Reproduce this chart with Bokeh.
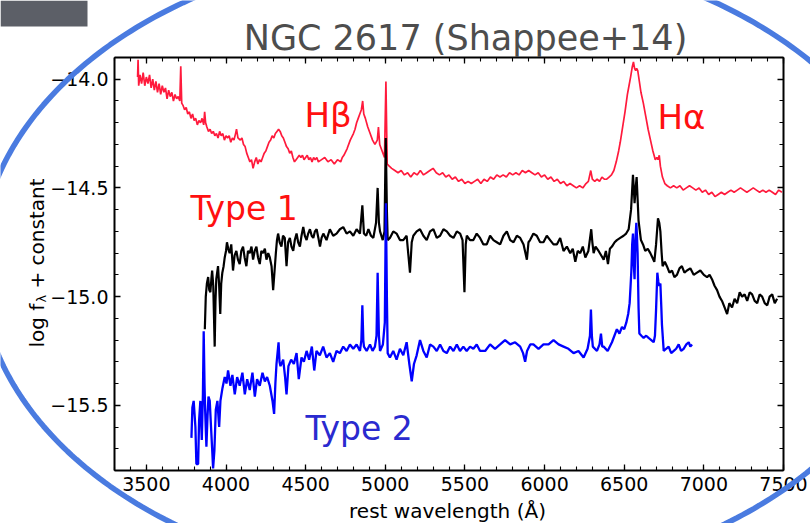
import numpy as np
from bokeh.plotting import figure
from bokeh.models import (Range1d, LinearAxis, SingleIntervalTicker, BasicTickFormatter,
                          CustomJSTickFormatter, Label, PolyAnnotation, BoxAnnotation)
from bokeh.embed import file_html
from bokeh.resources import INLINE

# ---------------- data ----------------
type1_wl = [
    3445, 3448, 3452, 3460, 3470, 3480, 3490, 3500, 3510, 3520,
    3530, 3540, 3550, 3560, 3570, 3580, 3590, 3600, 3610, 3620,
    3630, 3640, 3650, 3660, 3670, 3680, 3690, 3700, 3710, 3716,
    3722, 3730, 3740, 3750, 3760, 3770, 3780, 3790, 3800, 3810,
    3820, 3830, 3840, 3850, 3860, 3866, 3872, 3880, 3890, 3900,
    3910, 3920, 3930, 3940, 3950, 3960, 3970, 3980, 3990, 4000,
    4010, 4020, 4030, 4040, 4050, 4060, 4066, 4075, 4090, 4100,
    4110, 4120, 4130, 4140, 4150, 4160, 4170, 4180, 4190, 4200,
    4210, 4220, 4230, 4240, 4250, 4260, 4270, 4280, 4290, 4300,
    4310, 4320, 4330, 4340, 4350, 4360, 4370, 4380, 4390, 4400,
    4410, 4420, 4430, 4440, 4450, 4460, 4470, 4480, 4490, 4500,
    4510, 4520, 4530, 4540, 4550, 4560, 4570, 4580, 4600, 4620,
    4640, 4660, 4680, 4700, 4720, 4730, 4740, 4760, 4780, 4800,
    4810, 4820, 4830, 4840, 4850, 4858, 4865, 4875, 4890, 4905,
    4920, 4935, 4950, 4957, 4965, 4980, 4995, 5004, 5012, 5025,
    5040, 5060, 5080, 5100, 5120, 5140, 5160, 5180, 5200, 5220,
    5240, 5260, 5280, 5300, 5320, 5340, 5360, 5380, 5400, 5420,
    5440, 5460, 5480, 5500, 5520, 5540, 5560, 5580, 5600, 5620,
    5640, 5660, 5680, 5700, 5720, 5740, 5760, 5780, 5800, 5820,
    5840, 5860, 5880, 5900, 5920, 5940, 5960, 5980, 6000, 6020,
    6040, 6060, 6080, 6100, 6120, 6140, 6160, 6180, 6200, 6220,
    6240, 6260, 6275, 6290, 6300, 6315, 6330, 6345, 6360, 6375,
    6390, 6405, 6420, 6435, 6450, 6465, 6475, 6490, 6505, 6520,
    6530, 6540, 6550, 6558, 6565, 6572, 6578, 6585, 6595, 6605,
    6620, 6635, 6650, 6665, 6680, 6695, 6705, 6712, 6720, 6727,
    6740, 6755, 6770, 6790, 6810, 6830, 6850, 6870, 6890, 6910,
    6930, 6950, 6970, 6990, 7010, 7030, 7050, 7070, 7090, 7110,
    7130, 7150, 7170, 7190, 7210, 7230, 7250, 7270, 7290, 7310,
    7330, 7350, 7370, 7390, 7410, 7430, 7450, 7470, 7490,
]
type1_flux = [
    -13.99, -13.91, -14.03, -13.98, -14.02, -13.97, -14.03, -13.99, -14.02, -13.98,
    -14.04, -14.00, -14.05, -14.01, -14.06, -14.02, -14.07, -14.03, -14.06, -14.04,
    -14.09, -14.05, -14.08, -14.06, -14.10, -14.07, -14.09, -14.08, -14.10, -13.94,
    -14.11, -14.12, -14.14, -14.13, -14.16, -14.15, -14.18, -14.16, -14.19, -14.18,
    -14.21, -14.19, -14.20, -14.18, -14.21, -14.15, -14.20, -14.22, -14.24, -14.23,
    -14.25, -14.24, -14.26, -14.25, -14.27, -14.24, -14.26, -14.25, -14.28, -14.26,
    -14.27, -14.26, -14.29, -14.27, -14.28, -14.25, -14.23, -14.27, -14.28, -14.27,
    -14.30, -14.31, -14.34, -14.36, -14.38, -14.37, -14.41, -14.38, -14.36, -14.39,
    -14.37, -14.38, -14.36, -14.34, -14.33, -14.31, -14.29, -14.28, -14.26, -14.27,
    -14.25, -14.24, -14.23, -14.24, -14.26, -14.27, -14.29, -14.31, -14.32, -14.34,
    -14.33, -14.36, -14.38, -14.37, -14.36, -14.35, -14.36, -14.35, -14.37, -14.36,
    -14.35, -14.37, -14.36, -14.38, -14.36, -14.37, -14.36, -14.38, -14.37, -14.36,
    -14.38, -14.37, -14.39, -14.37, -14.38, -14.36, -14.35, -14.32, -14.28, -14.25,
    -14.23, -14.20, -14.18, -14.16, -14.14, -14.10, -14.16, -14.18, -14.22, -14.25,
    -14.28, -14.30, -14.28, -14.22, -14.30, -14.33, -14.36, -14.01, -14.39, -14.40,
    -14.41, -14.42, -14.43, -14.42, -14.44, -14.43, -14.45, -14.43, -14.44, -14.42,
    -14.44, -14.43, -14.42, -14.41, -14.43, -14.44, -14.43, -14.45, -14.44, -14.46,
    -14.45, -14.47, -14.46, -14.48, -14.47, -14.48, -14.47, -14.46, -14.48, -14.46,
    -14.47, -14.45, -14.46, -14.44, -14.45, -14.44, -14.45, -14.43, -14.44, -14.43,
    -14.44, -14.42, -14.43, -14.42, -14.43, -14.44, -14.43, -14.45, -14.44, -14.46,
    -14.45, -14.47, -14.46, -14.48, -14.47, -14.49, -14.48, -14.49, -14.50, -14.49,
    -14.50, -14.48, -14.47, -14.42, -14.46, -14.47, -14.46, -14.47, -14.45, -14.46,
    -14.46, -14.45, -14.44, -14.42, -14.38, -14.33, -14.29, -14.22, -14.15, -14.07,
    -14.03, -13.99, -13.945, -13.92, -13.95, -13.96, -13.95, -13.96, -14.01, -14.06,
    -14.11, -14.17, -14.23, -14.28, -14.33, -14.37, -14.36, -14.37, -14.35, -14.40,
    -14.45, -14.48, -14.49, -14.50, -14.49, -14.50, -14.49, -14.51, -14.50, -14.49,
    -14.50, -14.51, -14.50, -14.52, -14.51, -14.53, -14.52, -14.54, -14.53, -14.52,
    -14.53, -14.52, -14.51, -14.52, -14.51, -14.50, -14.51, -14.52, -14.51, -14.50,
    -14.51, -14.52, -14.51, -14.52, -14.51, -14.52, -14.53, -14.51, -14.52,
]

mid_wl = [
    3867, 3873, 3880, 3888, 3895, 3902, 3908, 3913, 3920, 3929,
    3934, 3939, 3950, 3957, 3964, 3970, 3977, 3985, 3992, 4000,
    4006, 4014, 4023, 4033, 4044, 4054, 4065, 4075, 4086, 4096,
    4107, 4117, 4128, 4138, 4149, 4160, 4170, 4180, 4191, 4201,
    4212, 4222, 4233, 4244, 4254, 4265, 4275, 4286, 4296, 4305,
    4313, 4320, 4327, 4337, 4348, 4358, 4369, 4375, 4380, 4390,
    4401, 4411, 4422, 4432, 4443, 4453, 4464, 4474, 4485, 4495,
    4506, 4516, 4527, 4538, 4548, 4558, 4569, 4580, 4590, 4600,
    4611, 4631, 4652, 4673, 4694, 4715, 4736, 4757, 4778, 4799,
    4820, 4841, 4856, 4866, 4880, 4894, 4910, 4925, 4942, 4952,
    4960, 4967, 4984, 4995, 5003, 5010, 5015, 5029, 5050, 5071,
    5092, 5113, 5134, 5155, 5166, 5176, 5197, 5218, 5239, 5260,
    5281, 5302, 5323, 5344, 5365, 5386, 5407, 5428, 5449, 5470,
    5485, 5497, 5505, 5512, 5532, 5553, 5574, 5595, 5616, 5637,
    5658, 5679, 5700, 5721, 5742, 5763, 5784, 5805, 5826, 5847,
    5868, 5889, 5899, 5909, 5930, 5951, 5972, 5993, 6014, 6035,
    6056, 6077, 6098, 6119, 6140, 6161, 6177, 6193, 6208, 6224,
    6240, 6256, 6275, 6293, 6300, 6308, 6320, 6339, 6355, 6371,
    6385, 6398, 6410, 6423, 6440, 6454, 6475, 6496, 6512, 6528,
    6543, 6549, 6555, 6560, 6565, 6572, 6578, 6584, 6590, 6605,
    6618, 6632, 6648, 6664, 6677, 6689, 6700, 6712, 6720, 6727,
    6735, 6741, 6755, 6768, 6784, 6800, 6815, 6831, 6847, 6862,
    6878, 6894, 6915, 6936, 6957, 6978, 7000, 7020, 7036, 7051,
    7067, 7083, 7098, 7114, 7130, 7146, 7160, 7177, 7193, 7209,
    7225, 7240, 7256, 7272, 7288, 7303, 7319, 7335, 7350, 7366,
    7382, 7398, 7413, 7429, 7445, 7460,
]
mid_flux = [
    -15.15, -15.00, -14.94, -14.91, -14.97, -14.98, -14.92, -14.88, -14.95, -15.23,
    -15.02, -14.92, -14.86, -14.95, -15.08, -14.94, -14.89, -14.86, -14.82, -14.79,
    -14.75, -14.78, -14.80, -14.76, -14.88, -14.81, -14.79, -14.83, -14.85, -14.79,
    -14.77, -14.82, -14.86, -14.79, -14.80, -14.77, -14.83, -14.79, -14.77, -14.82,
    -14.85, -14.79, -14.80, -14.78, -14.83, -14.80, -14.82, -14.86, -14.97, -14.88,
    -14.80, -14.74, -14.71, -14.75, -14.77, -14.72, -14.73, -14.80, -14.86, -14.75,
    -14.73, -14.77, -14.79, -14.74, -14.71, -14.75, -14.77, -14.72, -14.68, -14.72,
    -14.74, -14.71, -14.69, -14.72, -14.73, -14.70, -14.69, -14.73, -14.77, -14.73,
    -14.71, -14.74, -14.69, -14.72, -14.71, -14.69, -14.68, -14.71, -14.70, -14.72,
    -14.69, -14.71, -14.58, -14.71, -14.72, -14.69, -14.72, -14.73, -14.66, -14.50,
    -14.66, -14.70, -14.74, -14.70, -14.27, -14.60, -14.74, -14.73, -14.70, -14.71,
    -14.74, -14.74, -14.72, -14.89, -14.75, -14.72, -14.70, -14.69, -14.72, -14.74,
    -14.70, -14.69, -14.73, -14.72, -14.69, -14.70, -14.72, -14.73, -14.70, -14.71,
    -14.74, -14.98, -14.76, -14.72, -14.74, -14.74, -14.71, -14.73, -14.76, -14.76,
    -14.72, -14.74, -14.75, -14.76, -14.72, -14.70, -14.74, -14.75, -14.72, -14.73,
    -14.76, -14.83, -14.75, -14.74, -14.71, -14.72, -14.75, -14.75, -14.72, -14.74,
    -14.76, -14.76, -14.73, -14.79, -14.77, -14.80, -14.78, -14.84, -14.79, -14.80,
    -14.77, -14.82, -14.79, -14.69, -14.75, -14.80, -14.77, -14.79, -14.81, -14.83,
    -14.79, -14.85, -14.78, -14.77, -14.75, -14.74, -14.73, -14.72, -14.71, -14.69,
    -14.60, -14.52, -14.44, -14.50, -14.57, -14.50, -14.45, -14.55, -14.65, -14.74,
    -14.76, -14.79, -14.78, -14.80, -14.82, -14.84, -14.76, -14.64, -14.66, -14.70,
    -14.80, -14.86, -14.84, -14.86, -14.89, -14.88, -14.91, -14.90, -14.87, -14.86,
    -14.89, -14.88, -14.87, -14.90, -14.89, -14.88, -14.90, -14.91, -14.90, -14.92,
    -14.95, -14.97, -15.00, -15.02, -15.05, -15.08, -15.03, -15.05, -15.01, -15.03,
    -14.98, -15.00, -14.99, -15.02, -14.98, -14.99, -15.02, -15.03, -14.99, -15.00,
    -15.03, -15.04, -15.00, -14.99, -15.03, -15.01,
]

type2_wl = [
    3783, 3789, 3797, 3808, 3814, 3825, 3831, 3839, 3848, 3855,
    3860, 3865, 3869, 3877, 3884, 3890, 3898, 3906, 3913, 3919,
    3927, 3936, 3946, 3957, 3965, 3978, 3992, 4003, 4013, 4028,
    4040, 4055, 4070, 4086, 4103, 4118, 4133, 4149, 4166, 4181,
    4195, 4212, 4229, 4244, 4258, 4275, 4292, 4302, 4310, 4317,
    4330, 4336, 4342, 4359, 4371, 4380, 4392, 4409, 4426, 4443,
    4457, 4474, 4489, 4506, 4522, 4539, 4554, 4568, 4589, 4610,
    4631, 4652, 4673, 4694, 4715, 4736, 4757, 4778, 4799, 4820,
    4841, 4850, 4856, 4862, 4866, 4883, 4904, 4920, 4935, 4945,
    4952, 4960, 4967, 4985, 4997, 5004, 5010, 5015, 5029, 5050,
    5071, 5092, 5113, 5134, 5151, 5166, 5180, 5197, 5218, 5239,
    5260, 5281, 5302, 5323, 5344, 5365, 5386, 5407, 5428, 5449,
    5469, 5490, 5511, 5532, 5553, 5574, 5595, 5627, 5658, 5689,
    5721, 5752, 5784, 5815, 5847, 5865, 5878, 5890, 5910, 5930,
    5962, 5993, 6025, 6056, 6088, 6119, 6150, 6182, 6213, 6245,
    6270, 6285, 6291, 6297, 6303, 6329, 6345, 6354, 6362, 6371,
    6396, 6423, 6454, 6470, 6486, 6500, 6513, 6525, 6534, 6540,
    6545, 6550, 6555, 6560, 6565, 6570, 6576, 6580, 6584, 6590,
    6595, 6608, 6622, 6638, 6653, 6670, 6685, 6693, 6700, 6708,
    6714, 6719, 6727, 6733, 6737, 6748, 6763, 6779, 6795, 6811,
    6826, 6842, 6857, 6873, 6890, 6905, 6915, 6926,
]
type2_flux = [
    -15.65, -15.51, -15.48, -15.60, -15.77, -15.77, -15.57, -15.48, -15.66, -15.45,
    -15.16, -15.40, -15.52, -15.69, -15.55, -15.46, -15.48, -15.60, -15.70, -15.79,
    -15.71, -15.52, -15.48, -15.60, -15.48, -15.42, -15.37, -15.40, -15.34, -15.41,
    -15.36, -15.45, -15.37, -15.41, -15.35, -15.45, -15.38, -15.43, -15.35, -15.46,
    -15.38, -15.41, -15.35, -15.39, -15.37, -15.41, -15.48, -15.54, -15.40, -15.31,
    -15.21, -15.30, -15.32, -15.29, -15.37, -15.45, -15.32, -15.29, -15.31, -15.26,
    -15.38, -15.28, -15.30, -15.25, -15.29, -15.23, -15.34, -15.25, -15.27, -15.23,
    -15.28, -15.26, -15.30, -15.25, -15.26, -15.23, -15.25, -15.22, -15.24, -15.22,
    -15.25, -15.20, -15.04, -15.20, -15.23, -15.25, -15.22, -15.25, -15.23, -15.18,
    -14.89, -15.18, -15.25, -15.22, -15.12, -14.57, -15.00, -15.26, -15.28, -15.25,
    -15.29, -15.24, -15.27, -15.21, -15.31, -15.39, -15.31, -15.27, -15.20, -15.25,
    -15.28, -15.22, -15.23, -15.25, -15.22, -15.25, -15.26, -15.23, -15.25, -15.22,
    -15.25, -15.23, -15.25, -15.23, -15.24, -15.22, -15.25, -15.25, -15.22, -15.24,
    -15.22, -15.20, -15.22, -15.21, -15.23, -15.26, -15.30, -15.25, -15.22, -15.22,
    -15.24, -15.22, -15.22, -15.20, -15.22, -15.23, -15.24, -15.26, -15.25, -15.28,
    -15.24, -15.18, -15.06, -15.18, -15.23, -15.25, -15.22, -15.17, -15.23, -15.23,
    -15.25, -15.21, -15.15, -15.17, -15.14, -15.15, -15.12, -15.08, -15.03, -14.95,
    -14.88, -14.76, -14.71, -14.85, -14.92, -14.75, -14.66, -14.72, -14.80, -15.05,
    -15.17, -15.18, -15.19, -15.18, -15.19, -15.20, -15.21, -15.18, -15.06, -14.89,
    -14.93, -14.95, -14.94, -15.05, -15.13, -15.25, -15.24, -15.23, -15.26, -15.25,
    -15.24, -15.22, -15.25, -15.24, -15.22, -15.21, -15.23, -15.22,
]

x_range_limits = (3300, 7500)
y_range_limits = (-15.8, -13.9)

title_text = "NGC 2617 (Shappee+14)"
x_label_text = "rest wavelength (\u00c5)"
type1_text = "Type 1"
type2_text = "Type 2"
hbeta_text = "H\u03b2"
halpha_text = "H\u03b1"

# ---------------- main spectrum figure ----------------
W, H = 810, 523
FL, FR, FT, FB = 114, 783, 57, 470   # frame edges in page pixels

p = figure(width=W, height=H, output_backend="svg", toolbar_location=None, title=None,
           x_range=Range1d(*x_range_limits), y_range=Range1d(*y_range_limits),
           x_axis_location=None, y_axis_location=None,
           min_border_left=FL, min_border_right=W - FR,
           min_border_top=FT, min_border_bottom=H - FB)
p.outline_line_color = None
p.background_fill_color = "white"
p.border_fill_color = "white"
p.xgrid.visible = False
p.ygrid.visible = False

minus_fmt = CustomJSTickFormatter(
    code="return (tick < 0 ? '\\u2212' : '') + Math.abs(tick).toFixed(1);")


def style_axis(ax):
    ax.axis_line_width = 2
    ax.axis_line_color = "black"
    ax.major_tick_in = 6
    ax.major_tick_out = 0
    ax.minor_tick_in = 4
    ax.minor_tick_out = 0
    ax.major_tick_line_width = 1.3
    ax.minor_tick_line_width = 1.1
    ax.major_tick_line_color = "black"
    ax.minor_tick_line_color = "black"
    ax.major_label_text_font = "DejaVu Sans"
    ax.major_label_text_font_size = "19px"
    ax.major_label_text_color = "black"


for loc in ("below", "above"):
    fmt = BasicTickFormatter() if loc == "below" else CustomJSTickFormatter(code="return '';")
    ax = LinearAxis(ticker=SingleIntervalTicker(interval=500, num_minor_ticks=5), formatter=fmt)
    style_axis(ax)
    ax.major_label_standoff = 6
    p.add_layout(ax, loc)

for loc in ("left", "right"):
    fmt = minus_fmt if loc == "left" else CustomJSTickFormatter(code="return '';")
    ax = LinearAxis(ticker=SingleIntervalTicker(interval=0.5, num_minor_ticks=5), formatter=fmt)
    style_axis(ax)
    ax.major_label_standoff = 6
    p.add_layout(ax, loc)

p.line(type1_wl, type1_flux, line_color="#FF1A3C", line_width=1.7)
p.line(mid_wl, mid_flux, line_color="black", line_width=2.2)
p.line(type2_wl, type2_flux, line_color="#0000FF", line_width=2.3)

# ---------------- transparent overlay in page pixels (separate root) ----------------
q = figure(width=W, height=H, output_backend="svg", toolbar_location=None, title=None,
           x_range=Range1d(0, W), y_range=Range1d(H, 0),
           x_axis_location=None, y_axis_location=None, min_border=0)
q.outline_line_color = None
q.background_fill_alpha = 0
q.border_fill_alpha = 0
q.xgrid.visible = False
q.ygrid.visible = False
q.styles = {"position": "absolute", "left": "0px", "top": "0px"}


def page_label(x, y, text, size, color, align="left", angle=0.0, font="DejaVu Sans"):
    q.add_layout(Label(x=x, y=y, text=text, text_font=font, text_font_size=size,
                       text_color=color, text_align=align, text_baseline="alphabetic",
                       angle=angle))


q.add_layout(BoxAnnotation(left=0, right=87, top=0, bottom=26,
                           fill_color="#5C5F67", fill_alpha=1.0, line_color=None))

page_label(465, 37, title_text, "35px", "#4D4D4D", align="center")
page_label(304, 114, hbeta_text, "34px", "#FF1010")
page_label(657, 116, halpha_text, "34px", "#FF1010")
page_label(190, 208, type1_text, "33px", "#FF1010")
page_label(305, 428, type2_text, "33px", "#2A2ACF")

page_label(447, 510, x_label_text, "20px", "black", align="center")
page_label(36.5, 347, "log f", "20px", "black", angle=np.pi / 2)
page_label(40.5, 302, "\u03bb", "13px", "black", angle=np.pi / 2)
page_label(36.5, 288, "+ constant", "20px", "black", angle=np.pi / 2)

t = np.linspace(0, 2 * np.pi, 400)
ex = 449 + 470 * np.cos(t)
ey = 265 + 319 * np.sin(t)
q.add_layout(PolyAnnotation(xs=list(ex), ys=list(ey), fill_color=None, fill_alpha=0,
                            line_color="#4A7BE0", line_alpha=1.0, line_width=5.5))

open("out.html", "w").write(file_html([p, q], INLINE))
